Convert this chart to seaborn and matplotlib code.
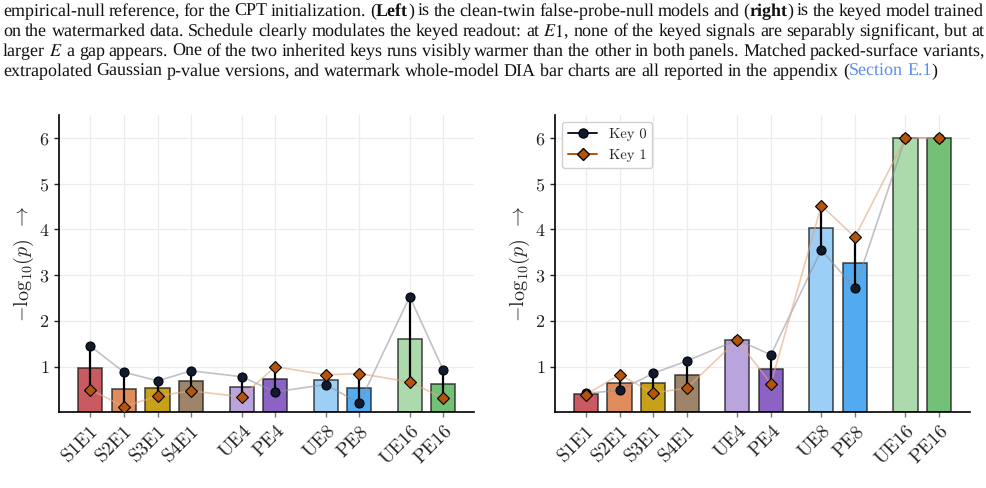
import re
import numpy as np
import pandas as pd
import seaborn as sns
import matplotlib.pyplot as plt
from matplotlib.lines import Line2D

# === Data ===
labels = ["S1E1", "S2E1", "S3E1", "S4E1", "UE4", "PE4", "UE8", "PE8", "UE16", "PE16"]
positions = [0, 1, 2, 3, 4.5, 5.5, 7, 8, 9.5, 10.5]
bar_colors = ["#c95a61", "#e08d5e", "#c8a11b", "#9e8469", "#b9a4dd",
              "#8a63c5", "#9bcff6", "#52abf0", "#addaad", "#72c176"]

# left: clean-twin false-probe-null models
left_key0 = [1.45, 0.88, 0.69, 0.91, 0.78, 0.45, 0.61, 0.20, 2.53, 0.92]
left_key1 = [0.50, 0.125, 0.36, 0.47, 0.34, 1.00, 0.82, 0.85, 0.665, 0.31]
# right: keyed model trained on watermarked data
right_key0 = [0.42, 0.48, 0.855, 1.125, 1.585, 1.26, 3.55, 2.71, 6.0, 6.0]
right_key1 = [0.39, 0.825, 0.425, 0.53, 1.585, 0.63, 4.52, 3.83, 6.0, 6.0]

caption_lines = [
    "empirical-null reference, for the CPT initialization. (**Left**) is the clean-twin false-probe-null models and (**right**) is the keyed model trained",
    "on the watermarked data. Schedule clearly modulates the keyed readout: at $E1$, none of the keyed signals are separably significant, but at",
    "larger $E$ a gap appears. One of the two inherited keys runs visibly warmer than the other in both panels. Matched packed-surface variants,",
    "extrapolated Gaussian p-value versions, and watermark whole-model DIA bar charts are all reported in the appendix ([Section] [E.1])",
]

KEY0_COLOR = "#111a2e"
KEY1_COLOR = "#b5540c"

# === Style ===
sns.set_theme(style="whitegrid")
plt.rcParams.update({
    "font.family": ["cmr10", "DejaVu Serif"],
    "mathtext.fontset": "cm",
    "axes.formatter.use_mathtext": True,
    "axes.edgecolor": "black",
    "axes.linewidth": 1.2,
    "grid.color": "#ececec",
    "grid.linewidth": 0.9,
    "xtick.color": "#222222",
    "ytick.color": "#222222",
    "text.hinting": "no_hinting",
    "text.hinting_factor": 1,
})

fig = plt.figure(figsize=(9.87, 4.88), dpi=100)
ax_l = fig.add_axes([0.0601, 0.1549, 0.4205, 0.6094])
ax_r = fig.add_axes([0.5623, 0.1549, 0.4205, 0.6094])

width = 0.72


def draw_panel(ax, key0, key1):
    key0 = np.array(key0)
    key1 = np.array(key1)
    df = pd.DataFrame({"pos": positions, "label": labels, "score": (key0 + key1) / 2})
    sns.barplot(data=df, x="pos", y="score", hue="label",
                palette=dict(zip(labels, bar_colors)), native_scale=True,
                width=width, dodge=False, legend=False, saturation=1,
                errorbar=None, edgecolor=(0.1, 0.1, 0.1, 0.75), linewidth=1.2,
                ax=ax, zorder=2)
    # faded connectors between keys
    ax.plot(positions, key0, color="#8c919c", alpha=0.55, lw=1.2, zorder=3)
    ax.plot(positions, key1, color="#e3a77e", alpha=0.6, lw=1.2, zorder=3)
    # range between the two keys
    ax.vlines(positions, np.minimum(key0, key1), np.maximum(key0, key1),
              color="black", lw=1.6, zorder=4)
    ax.plot(positions, key0, "o", ms=6.5, color=KEY0_COLOR, mec="black",
            mew=0.8, zorder=5)
    ax.plot(positions, key1, "D", ms=6.5, color=KEY1_COLOR, mec="black",
            mew=0.8, zorder=6)

    lo, hi = positions[0] - width / 2, positions[-1] + width / 2
    pad = 0.05 * (hi - lo)
    ax.set_xlim(lo - pad, hi + pad)
    ax.set_ylim(0, 6.5)
    ax.set_yticks([1, 2, 3, 4, 5, 6])
    ax.set_xticks(positions, labels)
    for t in ax.get_xticklabels():
        t.set_rotation(45)
        t.set_ha("right")
        t.set_rotation_mode("anchor")
    ax.tick_params(axis="both", labelsize=13, bottom=True, left=True,
                   length=3.5, width=1.0, direction="out")
    ax.tick_params(axis="x", labelsize=14, color="#777777")
    ax.set_xlabel("")
    ax.set_ylabel(r"$-\mathrm{log}_{10}(p)\enspace\rightarrow$", fontsize=14.5,
                  labelpad=2)
    ax.grid(True, zorder=0)
    ax.set_axisbelow(True)
    sns.despine(ax=ax)


draw_panel(ax_l, left_key0, left_key1)
draw_panel(ax_r, right_key0, right_key1)

handles = [
    Line2D([], [], color=KEY0_COLOR, marker="o", ms=6.5, mec="black", lw=1.4),
    Line2D([], [], color=KEY1_COLOR, marker="D", ms=6.5, mec="black", lw=1.4),
]
ax_r.legend(handles, ["Key 0", "Key 1"], loc="upper left", fontsize=10.5,
            frameon=True, framealpha=1, edgecolor="#d0d0d0", handlelength=2)

# === Caption text above the panels (justified like the paper) ===
renderer = fig.canvas.get_renderer()
W, H = fig.bbox.width, fig.bbox.height
px_per_pt = fig.dpi / 72
left_px, right_px, last_px = 3, 984, 937
base = 10.0
rows = []
for i, line in enumerate(caption_lines):
    y = 1 - (16 + 20 * i) / H
    words = []
    for word in line.split(" "):
        segs = []
        for part in re.split(r"(\*\*[^*]+\*\*|\[[^\]]+\])", word):
            if not part:
                continue
            kw = dict(family="Liberation Serif", size=base, math_fontfamily="stix",
                      color="#111111")
            if part.startswith("**"):
                part = part[2:-2]
                kw["weight"] = "bold"
            elif part.startswith("["):
                part = part[1:-1]
                kw["color"] = "#5b8def"
            t = fig.text(0, y, part, ha="left", va="baseline", **kw)
            segs.append([t, t.get_window_extent(renderer).width])
        words.append(segs)
    rows.append(words)

fits = []
for i, words in enumerate(rows):
    total = sum(w for segs in words for _, w in segs)
    gaps = (len(words) - 1) * 0.22 * base * px_per_pt
    target = (right_px - left_px) if i < len(rows) - 1 else (last_px - left_px)
    fits.append(target / (total + gaps))
scale = min(fits)
size = base * scale

for i, words in enumerate(rows):
    for segs in words:
        for s in segs:
            s[0].set_fontsize(size)
            s[1] *= scale
    total = sum(w for segs in words for _, w in segs)
    if i < len(rows) - 1:
        gap = (right_px - left_px - total) / (len(words) - 1)
    else:
        gap = 0.25 * size * px_per_pt
    x = left_px
    for segs in words:
        for t, w in segs:
            t.set_x(x / W)
            x += w
        x += gap

fig.savefig("out.png", dpi=100)
